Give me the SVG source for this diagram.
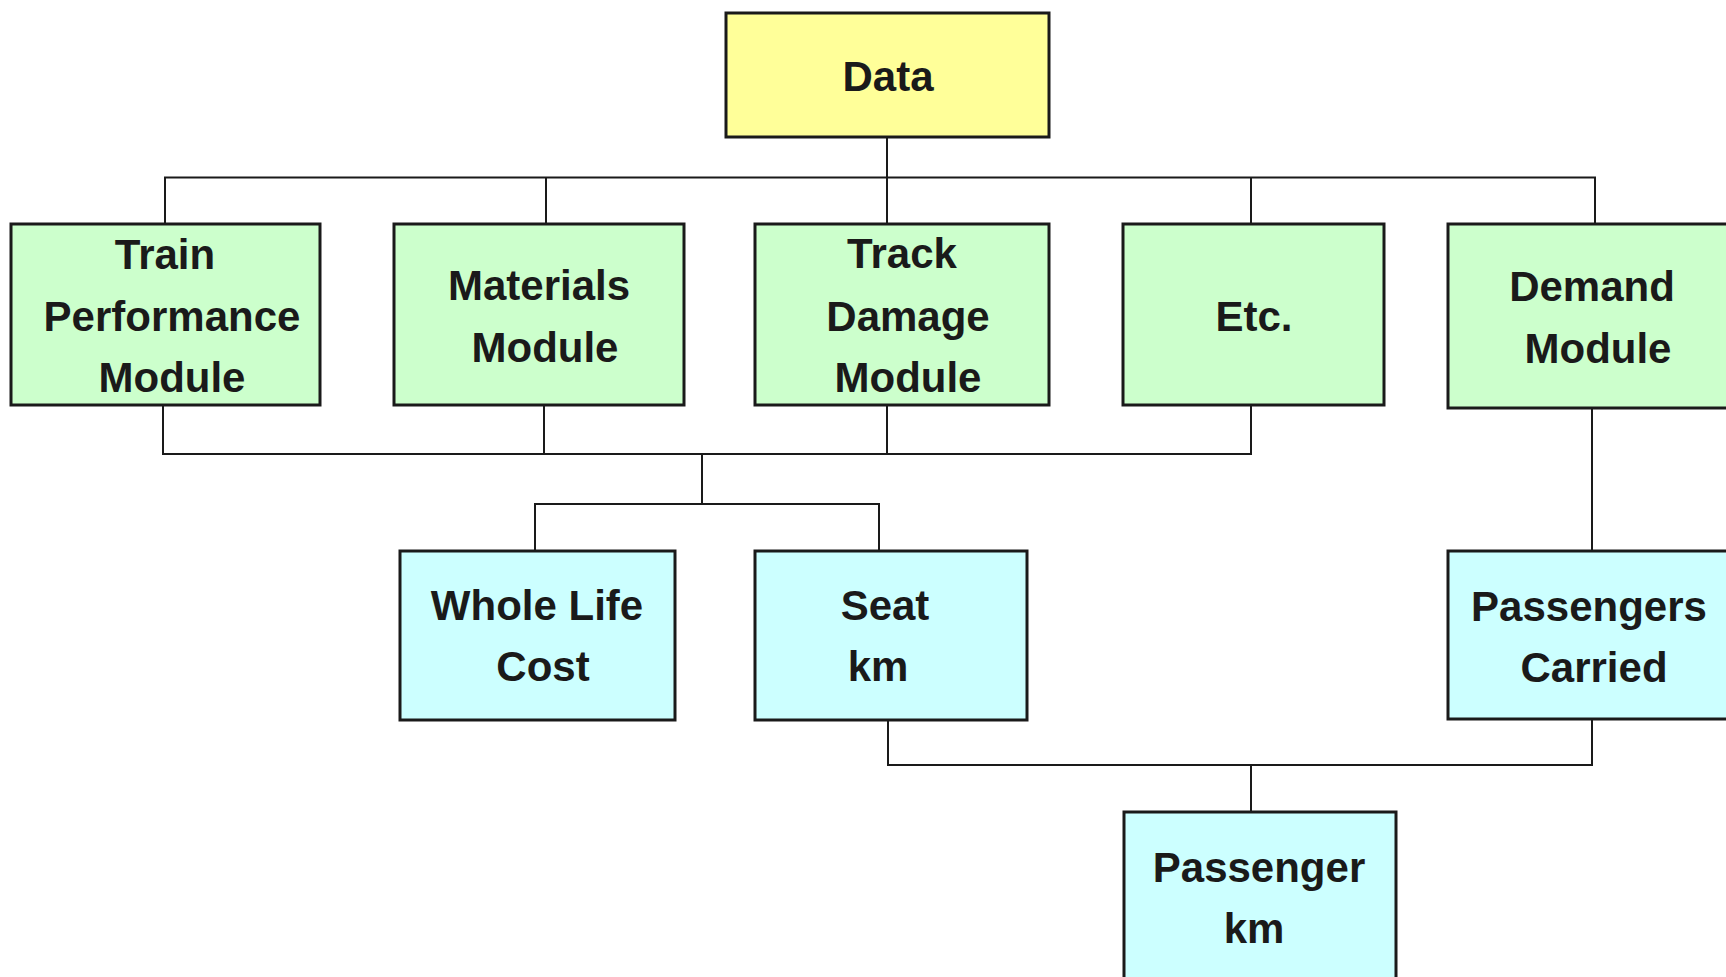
<svg xmlns="http://www.w3.org/2000/svg" width="1726" height="977" viewBox="0 0 1726 977">
<style>
.box{stroke:#1a1a1a;stroke-width:3}
.y{fill:#FFFF99}.g{fill:#CCFFCC}.c{fill:#CCFFFF}
.t{font-family:"Liberation Sans",Arial,sans-serif;font-weight:bold;font-size:42px;fill:#1a1a1a;text-anchor:middle}
.ln{stroke:#1a1a1a;stroke-width:2;fill:none}
</style>
<rect width="1726" height="977" fill="#fff"/>
<g id="connectors" class="ln">
<path d="M887 137V224"/>
<path d="M165 224V177.5H1595V224"/>
<path d="M546 177.5V224"/>
<path d="M1251 177.5V224"/>
<path d="M163 405V454H1251V405"/>
<path d="M544 405V454"/>
<path d="M887 405V454"/>
<path d="M702 454V504"/>
<path d="M535 550V504H879V550"/>
<path d="M1592 408V550"/>
<path d="M888 720V765H1592V719"/>
<path d="M1251 765V811"/>
</g>
<g id="data"><rect class="box y" x="726" y="13" width="323" height="124"/><text class="t" x="888" y="91">Data</text></g>
<g id="train"><rect class="box g" x="11" y="224" width="309" height="181"/><text class="t" x="165" y="269">Train</text><text class="t" x="172" y="331">Performance</text><text class="t" x="172" y="392">Module</text></g>
<g id="materials"><rect class="box g" x="394" y="224" width="290" height="181"/><text class="t" x="539" y="300">Materials</text><text class="t" x="545" y="362">Module</text></g>
<g id="track"><rect class="box g" x="755" y="224" width="294" height="181"/><text class="t" x="902" y="268">Track</text><text class="t" x="908" y="331">Damage</text><text class="t" x="908" y="392">Module</text></g>
<g id="etc"><rect class="box g" x="1123" y="224" width="261" height="181"/><text class="t" x="1254" y="331">Etc.</text></g>
<g id="demand"><rect class="box g" x="1448" y="224" width="290" height="184"/><text class="t" x="1592" y="301">Demand</text><text class="t" x="1598" y="363">Module</text></g>
<g id="wlc"><rect class="box c" x="400" y="551" width="275" height="169"/><text class="t" x="537" y="620">Whole Life</text><text class="t" x="543" y="681">Cost</text></g>
<g id="seatkm"><rect class="box c" x="755" y="551" width="272" height="169"/><text class="t" x="885" y="620">Seat</text><text class="t" x="878" y="681">km</text></g>
<g id="paxcarried"><rect class="box c" x="1448" y="551" width="290" height="168"/><text class="t" x="1589" y="621">Passengers</text><text class="t" x="1594" y="682">Carried</text></g>
<g id="paxkm"><rect class="box c" x="1124" y="812" width="272" height="180"/><text class="t" x="1259" y="882">Passenger</text><text class="t" x="1254" y="943">km</text></g>
</svg>
